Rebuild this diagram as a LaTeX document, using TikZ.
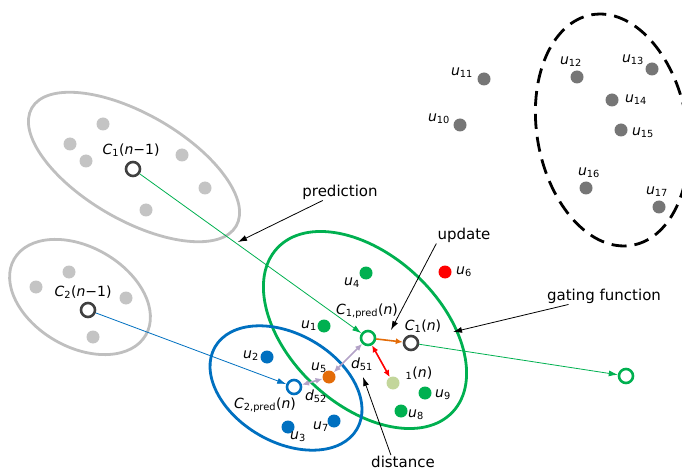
\documentclass[tikz,border=0pt]{standalone}
\usepackage{fontspec}
\setmainfont{DejaVu Sans}
\usetikzlibrary{arrows.meta,positioning,calc}

\definecolor{clgrey}{HTML}{BFBFBF}
\definecolor{ptgrey}{HTML}{C4C4C4}
\definecolor{ptdark}{HTML}{767676}
\definecolor{cblue}{HTML}{0070C0}
\definecolor{cgreen}{HTML}{00B050}
\definecolor{corange}{HTML}{E36C09}
\definecolor{clav}{HTML}{B3A2C7}
\definecolor{cpale}{HTML}{C3D69B}
\definecolor{cring}{HTML}{404040}

\newcommand{\ulab}[1]{\textit{u}\textsubscript{#1}}
\newcommand{\dlab}[1]{\textit{d}\textsubscript{#1}}

\begin{document}
\begin{tikzpicture}[x=1pt, y=-1pt,
    font=\fontsize{14}{16}\selectfont,
    dot/.style={circle, fill=#1, inner sep=0pt, minimum size=13pt},
    ring/.style={circle, draw=#1, line width=2.6pt, inner sep=0pt, minimum size=14pt},
    lbl/.style={inner sep=1pt},
    note/.style={inner sep=1pt, font=\fontsize{15}{17}\selectfont},
    cl/.style={line width=2.8pt},
    ann/.style={-{Latex[length=9pt,width=6pt]}, line width=0.8pt},
    link/.style={-{Latex[length=9pt,width=6pt]}, line width=0.8pt, draw=#1},
    dbl/.style={{Latex[length=7pt,width=6pt]}-{Latex[length=7pt,width=6pt]}, line width=1.6pt, draw=#1},
]
\useasboundingbox (0,0) rectangle (682,470);

% cluster outlines
\draw[cl, clgrey, rotate around={-30:(134,167)}] (134,167) ellipse (118pt and 53pt);
\draw[cl, clgrey, rotate around={-30:(80,297)}] (80,297) ellipse (76pt and 50pt);
\draw[cl, black, dash pattern=on 15pt off 8pt, rotate around={10:(612,130)}] (612,130) ellipse (75pt and 117pt);
\draw[cl, cgreen, rotate around={-43:(365,330)}] (365,330) ellipse (120pt and 75pt);
\draw[cl, cblue, rotate around={-30:(286,388)}] (286,388) ellipse (82pt and 54pt);

% old cluster 1
\node[dot=ptgrey] (g1) at (103,124) {};
\node[dot=ptgrey] (g2) at (70,144) {};
\node[dot=ptgrey] (g3) at (86,161) {};
\node[dot=ptgrey] (g4) at (182,155) {};
\node[dot=ptgrey] (g5) at (205,188) {};
\node[dot=ptgrey] (g6) at (146,210) {};
\node[ring=cring] (c1old) at (133,169) {};
\node[lbl] (c1oldlbl) at (131,150) {\textit{C}\textsubscript{1}(\textit{n}−1)};

% old cluster 2
\node[dot=ptgrey] (h1) at (69,272) {};
\node[dot=ptgrey] (h2) at (36,287) {};
\node[dot=ptgrey] (h3) at (126,298) {};
\node[dot=ptgrey] (h4) at (93,337) {};
\node[ring=cring] (c2old) at (88,310) {};
\node[lbl] (c2oldlbl) at (83,292) {\textit{C}\textsubscript{2}(\textit{n}−1)};

% far points
\node[dot=ptdark] (u10) at (460,125) {};
\node[dot=ptdark] (u11) at (484,79) {};
\node[dot=ptdark] (u12) at (577,77) {};
\node[dot=ptdark] (u13) at (652,69) {};
\node[dot=ptdark] (u14) at (612,100) {};
\node[dot=ptdark] (u15) at (621,130) {};
\node[dot=ptdark] (u16) at (586,188) {};
\node[dot=ptdark] (u17) at (659,207) {};
\node[lbl] (u10lbl) at (439,119) {\ulab{10}};
\node[lbl] (u11lbl) at (462,73) {\ulab{11}};
\node[lbl] (u12lbl) at (571,62) {\ulab{12}};
\node[lbl] (u13lbl) at (633,60) {\ulab{13}};
\node[lbl] (u14lbl) at (636,100) {\ulab{14}};
\node[lbl] (u15lbl) at (643,133) {\ulab{15}};
\node[lbl] (u16lbl) at (589,173) {\ulab{16}};
\node[lbl] (u17lbl) at (657,192) {\ulab{17}};

% current points
\node[dot=cgreen] (u1) at (324,326) {};
\node[dot=cblue] (u2) at (267,357) {};
\node[dot=cblue] (u3) at (288,427) {};
\node[dot=cgreen] (u4) at (366,273) {};
\node[dot=corange] (u5) at (329,377) {};
\node[dot=red] (u6) at (445,272) {};
\node[dot=cblue] (u7) at (334,421) {};
\node[dot=cgreen] (u8) at (401,411) {};
\node[dot=cgreen] (u9) at (425,393) {};
\node[dot=cpale] (c1meas) at (393,383) {};
\node[lbl] (u1lbl) at (309,326) {\ulab{1}};
\node[lbl] (u2lbl) at (251,356) {\ulab{2}};
\node[lbl] (u3lbl) at (298,437) {\ulab{3}};
\node[lbl] (u4lbl) at (352,283) {\ulab{4}};
\node[lbl] (u5lbl) at (319,368) {\ulab{5}};
\node[lbl] (u6lbl) at (464,272) {\ulab{6}};
\node[lbl] (u7lbl) at (321,427) {\ulab{7}};
\node[lbl] (u8lbl) at (416,415) {\ulab{8}};
\node[lbl] (u9lbl) at (443,395) {\ulab{9}};
\node[lbl] (c1measlbl) at (419,373) {\textsubscript{1}(\textit{n})};

% centres
\node[ring=cgreen, fill=white] (c1pred) at (368,338) {};
\node[ring=cring, fill=white] (c1new) at (411,343) {};
\node[ring=cblue, fill=white] (c2pred) at (294,387) {};
\node[ring=cgreen, fill=white] (c1next) at (626,376) {};
\node[lbl] (c1predlbl) at (367,311) {\textit{C}\textsubscript{1,pred}(\textit{n})};
\node[lbl] (c1newlbl) at (423,326) {\textit{C}\textsubscript{1}(\textit{n})};
\node[lbl] (c2predlbl) at (265,405) {\textit{C}\textsubscript{2,pred}(\textit{n})};
\node[lbl] (d52lbl) at (316,396) {\dlab{52}};
\node[lbl] (d51lbl) at (362,364) {\dlab{51}};

% predictions and distances
\draw[link=cgreen] (c1old) -- (c1pred);
\draw[link=cblue] (c2old) -- (c2pred);
\draw[link=cgreen] (c1new) -- (c1next);
\draw[-{Latex[length=7pt,width=6pt]}, line width=1.6pt, corange] (c1pred) -- (c1new);
\draw[dbl=red] (c1pred) -- (c1meas);
\draw[dbl=clav] (c1pred) -- (u5);
\draw[dbl=clav] (u5) -- (c2pred);

% annotations
\node[note] (predlbl) at (340,192) {prediction};
\node[note] (updlbl) at (464,235) {update};
\node[note] (gatelbl) at (604,296) {gating function};
\node[note] (distlbl) at (403,462) {distance};
\coordinate (predtip) at (238,242);
\coordinate (updtip) at (391,330);
\coordinate (gatetip) at (453,332);
\coordinate (disttip) at (363,377);
\draw[ann] (predlbl) -- (predtip);
\draw[ann] (updlbl.south west) -- (updtip);
\draw[ann] (gatelbl) -- (gatetip);
\draw[ann] (distlbl.150) -- (disttip);
\end{tikzpicture}
\end{document}
